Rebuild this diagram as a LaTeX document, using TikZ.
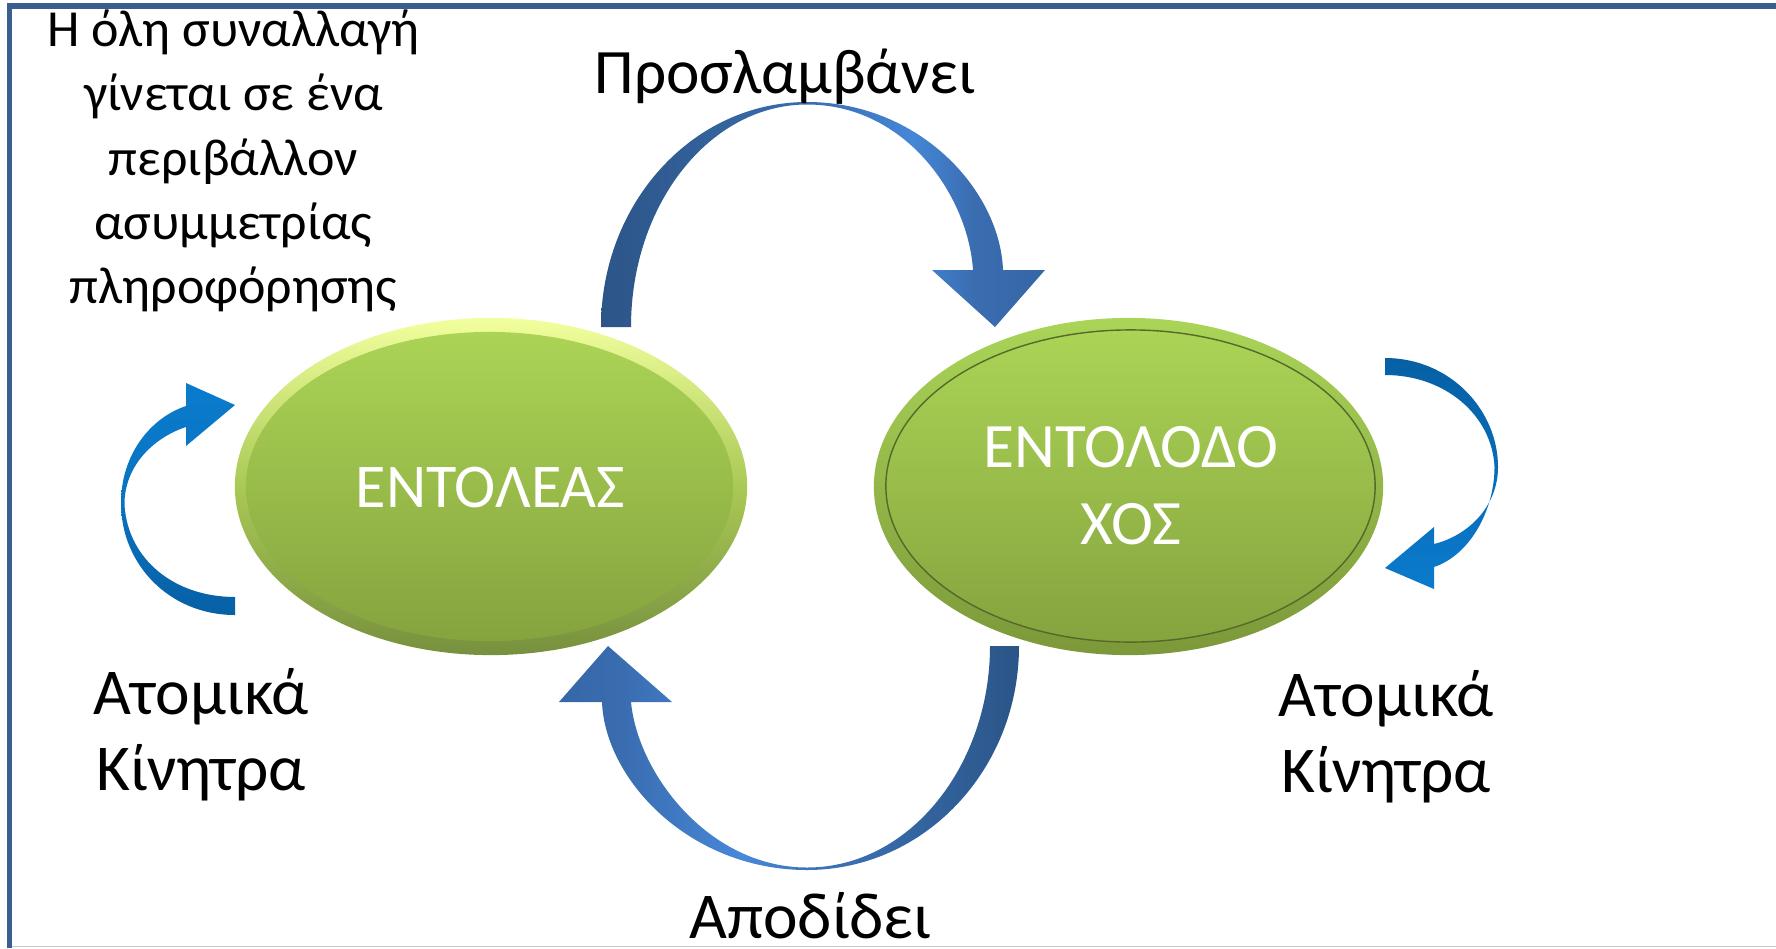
\documentclass[tikz,border=0pt]{standalone}
\usepackage{fontspec}
\setmainfont{Carlito}
\usetikzlibrary{shapes.geometric}
\definecolor{frameblue}{HTML}{3A5F8F}
\definecolor{framegray}{HTML}{C2CAD6}
\definecolor{tA1}{HTML}{2C5587}
\definecolor{tA2}{HTML}{3A6CAD}
\definecolor{tA3}{HTML}{4586D6}
\definecolor{tA4}{HTML}{3A6DB0}
\definecolor{tA5}{HTML}{3566A6}
\definecolor{bA1}{HTML}{3567A8}
\definecolor{bA2}{HTML}{3A6DB0}
\definecolor{bA3}{HTML}{4788D8}
\definecolor{bA4}{HTML}{3D75BC}
\definecolor{bA5}{HTML}{2B5587}
\definecolor{smBright}{HTML}{0A7BCD}
\definecolor{smDark}{HTML}{0760A5}
\definecolor{rimLtop}{HTML}{F2FF9E}
\definecolor{rimLmid}{HTML}{A9C955}
\definecolor{rimLbot}{HTML}{77903E}
\definecolor{faceTop}{HTML}{ABD456}
\definecolor{faceBot}{HTML}{86A33E}
\definecolor{rimRtop}{HTML}{AAD558}
\definecolor{rimRbot}{HTML}{7C9839}
\definecolor{ringR}{HTML}{55692A}
\pgfdeclarehorizontalshading{topArrowShade}{100bp}{color(0bp)=(tA1); color(25bp)=(tA1); color(48bp)=(tA2); color(60bp)=(tA3); color(67bp)=(tA4); color(75bp)=(tA5); color(100bp)=(tA5)}
\pgfdeclarehorizontalshading{botArrowShade}{100bp}{color(0bp)=(bA1); color(25bp)=(bA1); color(32bp)=(bA2); color(45bp)=(bA3); color(52bp)=(bA4); color(75bp)=(bA5); color(100bp)=(bA5)}
\begin{document}
\begin{tikzpicture}[x=0.01cm,y=-0.01cm,
  rimL/.style={ellipse, inner sep=0pt, top color=rimLtop, bottom color=rimLbot, middle color=rimLmid},
  faceL/.style={ellipse, inner sep=0pt, top color=faceTop, bottom color=faceBot},
  rimR/.style={ellipse, inner sep=0pt, top color=rimRtop, bottom color=rimRbot},
  faceR/.style={ellipse, inner sep=0pt, draw=ringR, line width=0.4pt, top color=faceTop, bottom color=faceBot},
  etext/.style={text=white, inner sep=0pt, align=center},
  lbl/.style={text=black, font=\fontsize{18.6pt}{21.5pt}\selectfont, inner sep=0pt, align=center},
  note/.style={text=black, font=\fontsize{14.8pt}{18.3pt}\selectfont, inner sep=0pt, align=center},
  bigarrow/.style={draw=none},
  smallarrow/.style={draw=none}
]
\useasboundingbox (0,0) rectangle (1776,948);
\fill[white] (0,0) rectangle (1776,948);
% frame
\draw[frameblue, line width=0.057cm] (9.5,948) -- (9.5,6.2) -- (1776,6.2);
\draw[framegray, line width=0.015cm] (12,946.5) -- (1776,946.5);

% ellipses
\node[rimL, minimum width=5.12cm, minimum height=3.37cm] (entoleas) at (491,486.5) {};
\node[faceL, minimum width=4.87cm, minimum height=3.09cm] (entoleasFace) at (489.5,486.5) {};
\node[etext, font=\fontsize{17.7pt}{21.9pt}\selectfont, anchor=base] (entoleasText) at (490.5,507) {ΕΝΤΟΛΕΑΣ};

\node[rimR, minimum width=5.09cm, minimum height=3.37cm] (entolodochos) at (1128.5,486.5) {};
\node[faceR, minimum width=4.89cm, minimum height=3.12cm] (entolodochosFace) at (1130.5,486) {};
\node[etext, font=\fontsize{18pt}{21.9pt}\selectfont] (entolodochosText) at (1131,486) {ΕΝΤΟΛΟΔΟ\\ΧΟΣ};

% top big arrow
\shade[bigarrow, shading=topArrowShade]
  (601,327) .. controls (601,203) and (693,102) .. (807,102)
  .. controls (919,102) and (1000,190) .. (1003,270)
  -- (1045,270) -- (995,327) -- (932,270) -- (973,270)
  .. controls (968,195) and (905,104.5) .. (807,104.5)
  .. controls (710,104.5) and (631,204) .. (631,327) -- cycle;

% bottom big arrow
\shade[bigarrow, shading=botArrowShade]
  (1019,646) .. controls (1019,770) and (924,870) .. (807,870)
  .. controls (690,870) and (605,780) .. (602,702)
  -- (559,702) -- (608,646) -- (672,702) -- (631,702)
  .. controls (638,775) and (710,867.5) .. (807,867.5)
  .. controls (910,867.5) and (990,765) .. (990,646) -- cycle;

% left small arrow
\shade[smallarrow, top color=smBright, bottom color=smDark, middle color=smBright!70!smDark]
  (235,615) .. controls (170,615) and (121,565) .. (121,503)
  .. controls (121,455) and (150,418) .. (186,406)
  -- (186,383) -- (235,405) -- (186,446) -- (186,427)
  .. controls (155,437) and (124,465) .. (124.5,505)
  .. controls (128,560) and (175,597) .. (235,597) -- cycle;

% right small arrow
\shade[smallarrow, top color=smDark, bottom color=smBright, middle color=smDark!55!smBright]
  (1385,358) .. controls (1450,358) and (1498,410) .. (1498,467)
  .. controls (1498,505) and (1470,535) .. (1434,544)
  -- (1434,527) -- (1385,568) -- (1434,589) -- (1434,567)
  .. controls (1470,555) and (1494.5,510) .. (1494.5,467)
  .. controls (1492,415) and (1445,375) .. (1385,375) -- cycle;

% labels
\node[lbl, font=\fontsize{18pt}{21.5pt}\selectfont, anchor=base] (prosl) at (785.5,93) {Προσλαμβάνει};
\node[lbl, anchor=base] (apod) at (810.5,938) {Αποδίδει};
\node[lbl] (atomL) at (201,735) {Ατομικά\\Κίνητρα};
\node[lbl] (atomR) at (1386,737) {Ατομικά\\Κίνητρα};
\node[note] (noteTL) at (233.5,161) {Η όλη συναλλαγή\\γίνεται σε ένα\\περιβάλλον\\ασυμμετρίας\\πληροφόρησης};
\end{tikzpicture}
\end{document}
